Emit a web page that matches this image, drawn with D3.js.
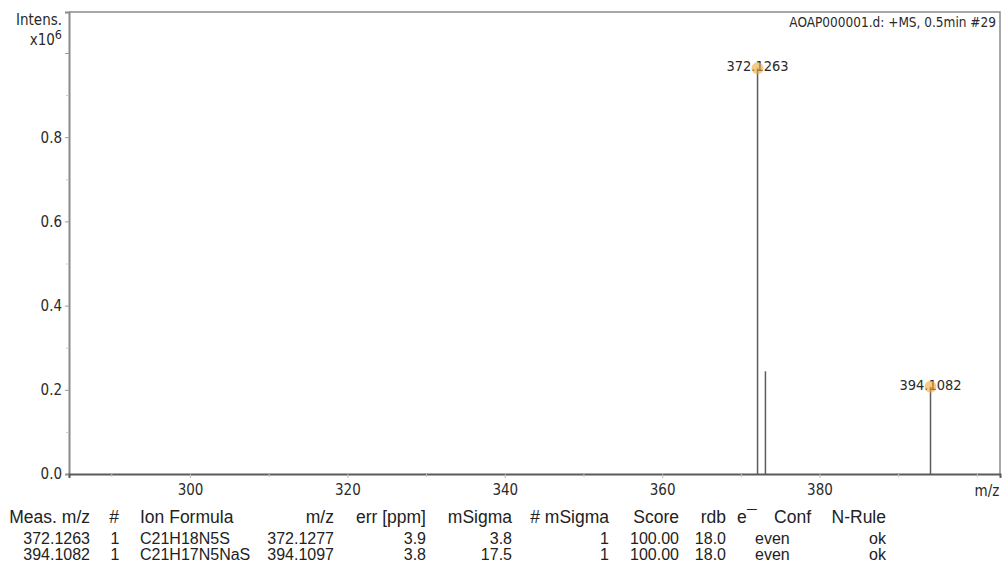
<!DOCTYPE html>
<html>
<head>
<meta charset="utf-8">
<script src="https://cdn.jsdelivr.net/npm/d3@7/dist/d3.min.js"></script>
<style>
  html, body { margin: 0; padding: 0; background: #fff; }
  svg { display: block; }
  .lbl { font-family: "DejaVu Sans", sans-serif; font-stretch: condensed; fill: #2a2a2a; }
  .tbl { font-family: "Liberation Sans", Arial, sans-serif; fill: #222; }
</style>
</head>
<body>
<svg id="chart" width="1005" height="565"></svg>
<script>
// Spectrum peaks (m/z, intensity in units of 10^6)
const peakMz = [372.1263, 373.1295, 394.1082];
const peakIntensity = [0.964, 0.244, 0.207];
const peakLabels = ["372.1263", null, "394.1082"];

// Axis ticks
const xMajorTicks = [300, 320, 340, 360, 380];
const xMinorTicks = [290, 310, 330, 350, 370, 390, 400];
const yMajorTicks = [0.0, 0.2, 0.4, 0.6, 0.8, 1.0];
const yTickLabels = ["0.0", "0.2", "0.4", "0.6", "0.8", ""];
const yMinorTicks = [0.1, 0.3, 0.5, 0.7, 0.9];

const spectrumTitle = "AOAP000001.d: +MS, 0.5min #29";

// Formula assignment table
const tableHeader = ["Meas. m/z", "#", "Ion Formula", "m/z", "err [ppm]", "mSigma", "# mSigma", "Score", "rdb", "e", "N-Rule"];
const measMz = ["372.1263", "394.1082"];
const rank = ["1", "1"];
const ionFormula = ["C21H18N5S", "C21H17N5NaS"];
const calcMz = ["372.1277", "394.1097"];
const errPpm = ["3.9", "3.8"];
const mSigma = ["3.8", "17.5"];
const mSigmaRank = ["1", "1"];
const score = ["100.00", "100.00"];
const rdb = ["18.0", "18.0"];
const eConf = ["even", "even"];
const nRule = ["ok", "ok"];

const svg = d3.select("#chart");
const plot = { left: 69, right: 1000, top: 12, bottom: 474 };

const x = d3.scaleLinear().domain([284.62, 402.94]).range([plot.left, plot.right]);
const y = d3.scaleLinear().domain([0, 1.0974]).range([plot.bottom, plot.top]);

// frame (top and right)
svg.append("path")
  .attr("d", `M${plot.left},${plot.top}H${plot.right}V${plot.bottom}`)
  .attr("fill", "none").attr("stroke", "#8a8a8a").attr("stroke-width", 1.5);

// y axis
const yAxis = svg.append("g").attr("transform", `translate(${plot.left},0)`)
  .call(d3.axisLeft(y).tickValues(yMajorTicks).tickSize(4).tickPadding(3)
    .tickFormat((d, i) => yTickLabels[i]));
const yMinor = svg.append("g").attr("transform", `translate(${plot.left},0)`)
  .call(d3.axisLeft(y).tickValues(yMinorTicks).tickSize(3).tickFormat(""));
yMinor.select(".domain").remove();
yMinor.selectAll("line").attr("stroke", "#c8c8c8");
yAxis.select(".domain").attr("stroke", "#8a8a8a").attr("stroke-width", 2);
yAxis.selectAll(".tick line").attr("stroke", "#9a9a9a");
yAxis.selectAll("text").attr("class", "lbl").style("font-size", "15px").attr("fill", "#2a2a2a");

// x axis
const xAxis = svg.append("g").attr("transform", `translate(0,${plot.bottom})`)
  .call(d3.axisBottom(x).tickValues(xMajorTicks).tickSize(4).tickPadding(6).tickFormat(d3.format("d")));
const xMinor = svg.append("g").attr("transform", `translate(0,${plot.bottom})`)
  .call(d3.axisBottom(x).tickValues(xMinorTicks).tickSize(3).tickFormat(""));
xMinor.select(".domain").remove();
xMinor.selectAll("line").attr("stroke", "#c8c8c8");
xAxis.select(".domain").attr("stroke", "#5a5a5a").attr("stroke-width", 2);
xAxis.selectAll(".tick line").attr("stroke", "#bbbbbb");
xAxis.selectAll("text").attr("class", "lbl").style("font-size", "15px").attr("fill", "#2a2a2a");

// axis titles
svg.append("text").attr("class", "lbl").attr("x", 987).attr("y", 496)
  .attr("text-anchor", "middle").style("font-size", "15px").text("m/z");
svg.append("text").attr("class", "lbl").attr("x", 62).attr("y", 25)
  .attr("text-anchor", "end").style("font-size", "15px").text("Intens.");
const mult = svg.append("text").attr("class", "lbl").attr("x", 62).attr("y", 45)
  .attr("text-anchor", "end").style("font-size", "15px");
mult.append("tspan").text("x10");
mult.append("tspan").attr("dy", -6).style("font-size", "12.5px").text("6");

// title
svg.append("text").attr("class", "lbl").attr("x", 996).attr("y", 27)
  .attr("text-anchor", "end").style("font-size", "13.5px").text(spectrumTitle);

// peaks
const peaks = peakMz.map((mz, i) => ({ mz, v: peakIntensity[i], label: peakLabels[i] }));
svg.append("g").selectAll("line").data(peaks).join("line")
  .attr("x1", d => x(d.mz)).attr("x2", d => x(d.mz))
  .attr("y1", y(0)).attr("y2", d => y(d.v))
  .attr("stroke", "#5c5c5c").attr("stroke-width", 1.5);

const labelled = peaks.filter(d => d.label);
svg.append("g").selectAll("text").data(labelled).join("text")
  .attr("class", "lbl").style("font-size", "14.5px")
  .attr("x", d => x(d.mz)).attr("y", d => y(d.v) + 3)
  .attr("text-anchor", "middle").text(d => d.label);
svg.append("g").selectAll("circle").data(labelled).join("circle")
  .attr("cx", d => x(d.mz)).attr("cy", d => y(d.v)).attr("r", 6)
  .attr("fill", "#f0a838").attr("fill-opacity", 0.6);

// table
const columns = [
  { key: measMz, x: 90, anchor: "end", hx: 90, hanchor: "end" },
  { key: rank, x: 115, anchor: "middle", hx: 114, hanchor: "middle" },
  { key: ionFormula, x: 140, anchor: "start", hx: 140, hanchor: "start" },
  { key: calcMz, x: 334, anchor: "end", hx: 334, hanchor: "end" },
  { key: errPpm, x: 426, anchor: "end", hx: 426, hanchor: "end" },
  { key: mSigma, x: 512, anchor: "end", hx: 512, hanchor: "end" },
  { key: mSigmaRank, x: 609, anchor: "end", hx: 609, hanchor: "end" },
  { key: score, x: 679, anchor: "end", hx: 679, hanchor: "end" },
  { key: rdb, x: 726, anchor: "end", hx: 726, hanchor: "end" },
  { key: eConf, x: 755, anchor: "start", hx: 737, hanchor: "start" },
  { key: nRule, x: 886, anchor: "end", hx: 886, hanchor: "end" }
];
const tbl = svg.append("g");
const headerY = 523, rowY = [544, 560];
columns.forEach((c, i) => {
  tbl.append("text").attr("class", "tbl").attr("x", c.hx).attr("y", headerY)
    .attr("text-anchor", c.hanchor).style("font-size", "17.5px").text(tableHeader[i]);
  c.key.forEach((v, r) => {
    tbl.append("text").attr("class", "tbl").attr("x", c.x).attr("y", rowY[r])
      .attr("text-anchor", c.anchor).style("font-size", "16px").text(v);
  });
});
// electron-configuration header: e with a raised bar, then "Conf"
tbl.append("text").attr("class", "tbl").attr("x", 747).attr("y", headerY)
  .style("font-size", "17.5px").text("\u00AF");
tbl.append("text").attr("class", "tbl").attr("x", 811).attr("y", headerY)
  .attr("text-anchor", "end").style("font-size", "17.5px").text("Conf");
</script>
</body>
</html>
